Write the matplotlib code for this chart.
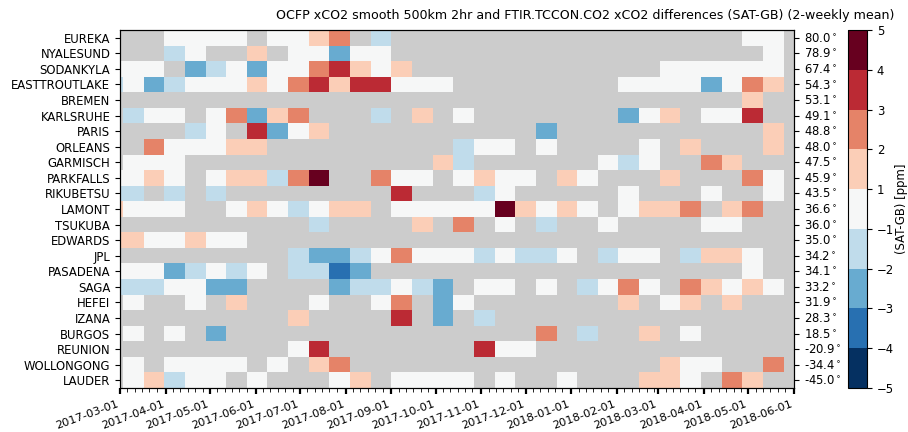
import numpy as np
import pandas as pd
import matplotlib
matplotlib.use('Agg')
import matplotlib.pyplot as plt
import matplotlib.dates as mdates
from matplotlib.colors import BoundaryNorm

n = np.nan

stations = ['EUREKA', 'NYALESUND', 'SODANKYLA', 'EASTTROUTLAKE', 'BREMEN', 'KARLSRUHE',
            'PARIS', 'ORLEANS', 'GARMISCH', 'PARKFALLS', 'RIKUBETSU', 'LAMONT', 'TSUKUBA',
            'EDWARDS', 'JPL', 'PASADENA', 'SAGA', 'HEFEI', 'IZANA', 'BURGOS', 'REUNION',
            'WOLLONGONG', 'LAUDER']
lats = [80.0, 78.9, 67.4, 54.3, 53.1, 49.1, 48.8, 48.0, 47.5, 45.9, 43.5, 36.6, 36.0,
        35.0, 34.2, 34.1, 33.2, 31.9, 28.3, 18.5, -20.9, -34.4, -45.0]

# 2-weekly bin edges
bin_edges = pd.date_range('2017-02-17', periods=34, freq='14D')
levels = [-5, -4, -3, -2, -1, 1, 2, 3, 4, 5]

# SAT-GB differences [ppm], one row per station (nan = no data)
diffs = [
    [n, n, n, 0, 0, 0, 0, n, 0, 0, 1.5,
     2.5, n, -1.5, n, n, n, n, n, n, n, n,
     n, n, n, n, n, n, n, n, n, 0, 0],
    [n, n, n, -1.5, 0, n, n, 1.5, n, 0, 0,
     -2.5, 0, 0, n, n, n, n, n, n, n, n,
     n, n, n, n, n, n, n, n, n, n, 0],
    [0, 0, 0, n, -2.5, -1.5, 0, -2.5, 0, 0, 2.5,
     3.5, 1.5, 0, 1.5, n, n, n, n, n, n, n,
     n, n, n, n, n, 0, 0, 0, 0, 0, 0],
    [-1.5, 0, -2.5, -1.5, 0, 0, 0, 1.5, 0, 2.5, 3.5,
     1.5, 3.5, 3.5, 0, 0, 0, n, n, n, n, n,
     n, n, n, 0, 0, 0, 0, -2.5, 0, 2.5, 1.5],
    [n, n, n, n, n, n, n, n, n, n, n,
     n, n, n, n, n, n, n, n, n, n, n,
     n, n, n, n, n, n, n, n, n, 1.5, n],
    [n, -1.5, 0, 0, n, 0, 2.5, -2.5, 1.5, 2.5, n,
     n, n, -1.5, n, 1.5, n, 0, n, n, n, n,
     n, n, n, -2.5, 0, 1.5, n, 0, 0, 3.5, n],
    [n, n, n, n, -1.5, 0, n, 3.5, -2.5, 0, 1.5,
     n, n, n, n, n, n, n, n, n, n, -2.5,
     n, n, n, n, n, n, n, n, n, n, 1.5],
    [n, n, 2.5, 0, 0, 0, 1.5, 1.5, n, n, n,
     n, n, n, n, n, n, -1.5, 0, 0, n, 0,
     n, n, n, n, 0, n, 1.5, n, n, n, 1.5],
    [n, 0, 0, 0, n, n, n, n, n, n, n,
     n, n, n, n, n, 1.5, -1.5, n, n, n, n,
     n, n, 0, -1.5, 0, n, n, 2.5, 1.5, n, n],
    [0, 0, 1.5, 0, n, 0, 1.5, 1.5, -1.5, 2.5, 4.5,
     n, n, 2.5, 0, 0, n, 0, 1.5, 0, 0, n,
     1.5, 0, n, n, n, 1.5, n, n, n, 2.5, 0],
    [-1.5, -1.5, n, -1.5, n, -1.5, n, n, n, n, n,
     n, n, n, 3.5, n, n, n, -1.5, 0, n, n,
     n, n, n, 0, n, n, n, 0, n, n, 0],
    [1.5, 0, 0, 0, n, n, 0, 1.5, 0, -1.5, 0,
     1.5, 1.5, n, 0, 0, 0, 0, 0, 4.5, 1.5, 0,
     1.5, 0, n, 0, 1.5, 1.5, 2.5, n, 1.5, 2.5, n],
    [n, n, n, n, n, n, n, n, n, n, -1.5,
     n, n, n, n, 1.5, n, 2.5, n, 0, n, -1.5,
     n, n, 0, n, n, n, n, 0, 0, n, n],
    [1.5, 1.5, 0, 0, 1.5, 0, 0, n, n, n, n,
     n, n, n, n, n, n, n, n, n, n, n,
     n, n, n, n, n, n, n, n, n, n, n],
    [n, n, n, n, n, n, n, n, n, -1.5, -2.5,
     -2.5, -1.5, 0, 2.5, 0, 0, 0, -1.5, 0, -1.5, -1.5,
     0, n, -1.5, 0, 0, n, -1.5, 1.5, 1.5, 0, n],
    [0, 0, 0, -2.5, -1.5, 0, -1.5, 0, n, -1.5, -1.5,
     -3.5, -2.5, n, n, n, n, n, n, n, n, n,
     n, n, n, n, n, n, n, n, n, 0, n],
    [-1.5, -1.5, -1.5, 0, 0, -2.5, -2.5, n, n, n, n,
     -2.5, -1.5, -1.5, 0, -1.5, -2.5, n, 0, 0, n, 0,
     n, -1.5, 0, 2.5, 0, n, 2.5, 1.5, 0, 1.5, 0],
    [n, 0, n, n, 0, n, 1.5, n, n, n, 0,
     n, n, 0, 2.5, n, -2.5, 0, n, n, n, n,
     n, n, n, 1.5, n, 0, 1.5, n, 1.5, n, n],
    [n, n, n, n, n, n, n, n, n, 1.5, n,
     n, n, n, 3.5, n, -2.5, n, -1.5, n, n, n,
     n, n, n, n, n, n, n, n, n, n, n],
    [n, 0, n, 0, n, -2.5, n, n, n, n, n,
     n, n, n, n, n, n, n, n, n, n, 2.5,
     n, -1.5, n, n, 1.5, n, 0, n, n, n, n],
    [n, n, n, n, n, n, n, n, n, 0, 3.5,
     n, n, n, n, n, n, n, 3.5, 0, 0, n,
     n, n, n, n, n, n, n, n, n, n, n],
    [n, 0, n, 0, 0, 0, 0, n, 0, n, 1.5,
     2.5, n, n, n, n, n, n, n, n, n, n,
     n, n, n, n, n, 1.5, 0, 0, n, n, 2.5],
    [n, 0, 1.5, -1.5, 0, 0, n, 0, n, n, n,
     0, 1.5, n, 0, 0, 0, 0, n, 0, n, n,
     0, n, n, n, 1.5, 1.5, 0, n, 2.5, 1.5, n],
]

fs = 8.4
fig = plt.figure(figsize=(9.08, 4.32), dpi=100)
ax = fig.add_axes([120 / 908, 44 / 432, 674 / 908, 358 / 432])
cax = fig.add_axes([848 / 908, 44 / 432, 19 / 908, 358 / 432])

ax.set_facecolor('#cccccc')
data = np.ma.masked_invalid(np.array(diffs))
norm = BoundaryNorm(levels, ncolors=256)
yy = np.arange(len(stations) + 1)
mesh = ax.pcolormesh(bin_edges.to_numpy(), yy, data, cmap='RdBu_r', norm=norm)

ax.set_ylim(len(stations), 0)
ax.set_yticks(np.arange(len(stations)) + 0.5)
ax.set_yticklabels(stations, fontsize=fs)
ax.set_xlim(pd.Timestamp('2017-03-01'), pd.Timestamp('2018-06-01'))
ax.xaxis.set_major_locator(mdates.MonthLocator())
ax.xaxis.set_major_formatter(mdates.DateFormatter('%Y-%m-%d'))
ax.xaxis.set_minor_locator(mdates.DayLocator(bymonthday=[6, 11, 16, 21, 26]))
ax.tick_params(axis='x', which='major', width=1.6, length=4)
ax.tick_params(axis='x', which='minor', length=3)
plt.setp(ax.get_xticklabels(), rotation=20, ha='right', fontsize=8.2)

ax2 = ax.twinx()
ax2.set_ylim(len(stations), 0)
ax2.set_yticks(np.arange(len(stations)) + 0.5)
ax2.set_yticklabels([f'{v:.1f}$^\\circ$' for v in lats], fontsize=fs)

cb = fig.colorbar(mesh, cax=cax, ticks=levels)
cb.ax.tick_params(labelsize=fs)
cb.set_label('(SAT-GB) [ppm]', fontsize=fs, labelpad=1)

fig.text(585 / 908, 1 - 16 / 432,
         'OCFP xCO2 smooth 500km 2hr and FTIR.TCCON.CO2 xCO2 differences (SAT-GB) (2-weekly mean)',
         ha='center', va='center', fontsize=9.1)

fig.savefig('out.png', dpi=100)
